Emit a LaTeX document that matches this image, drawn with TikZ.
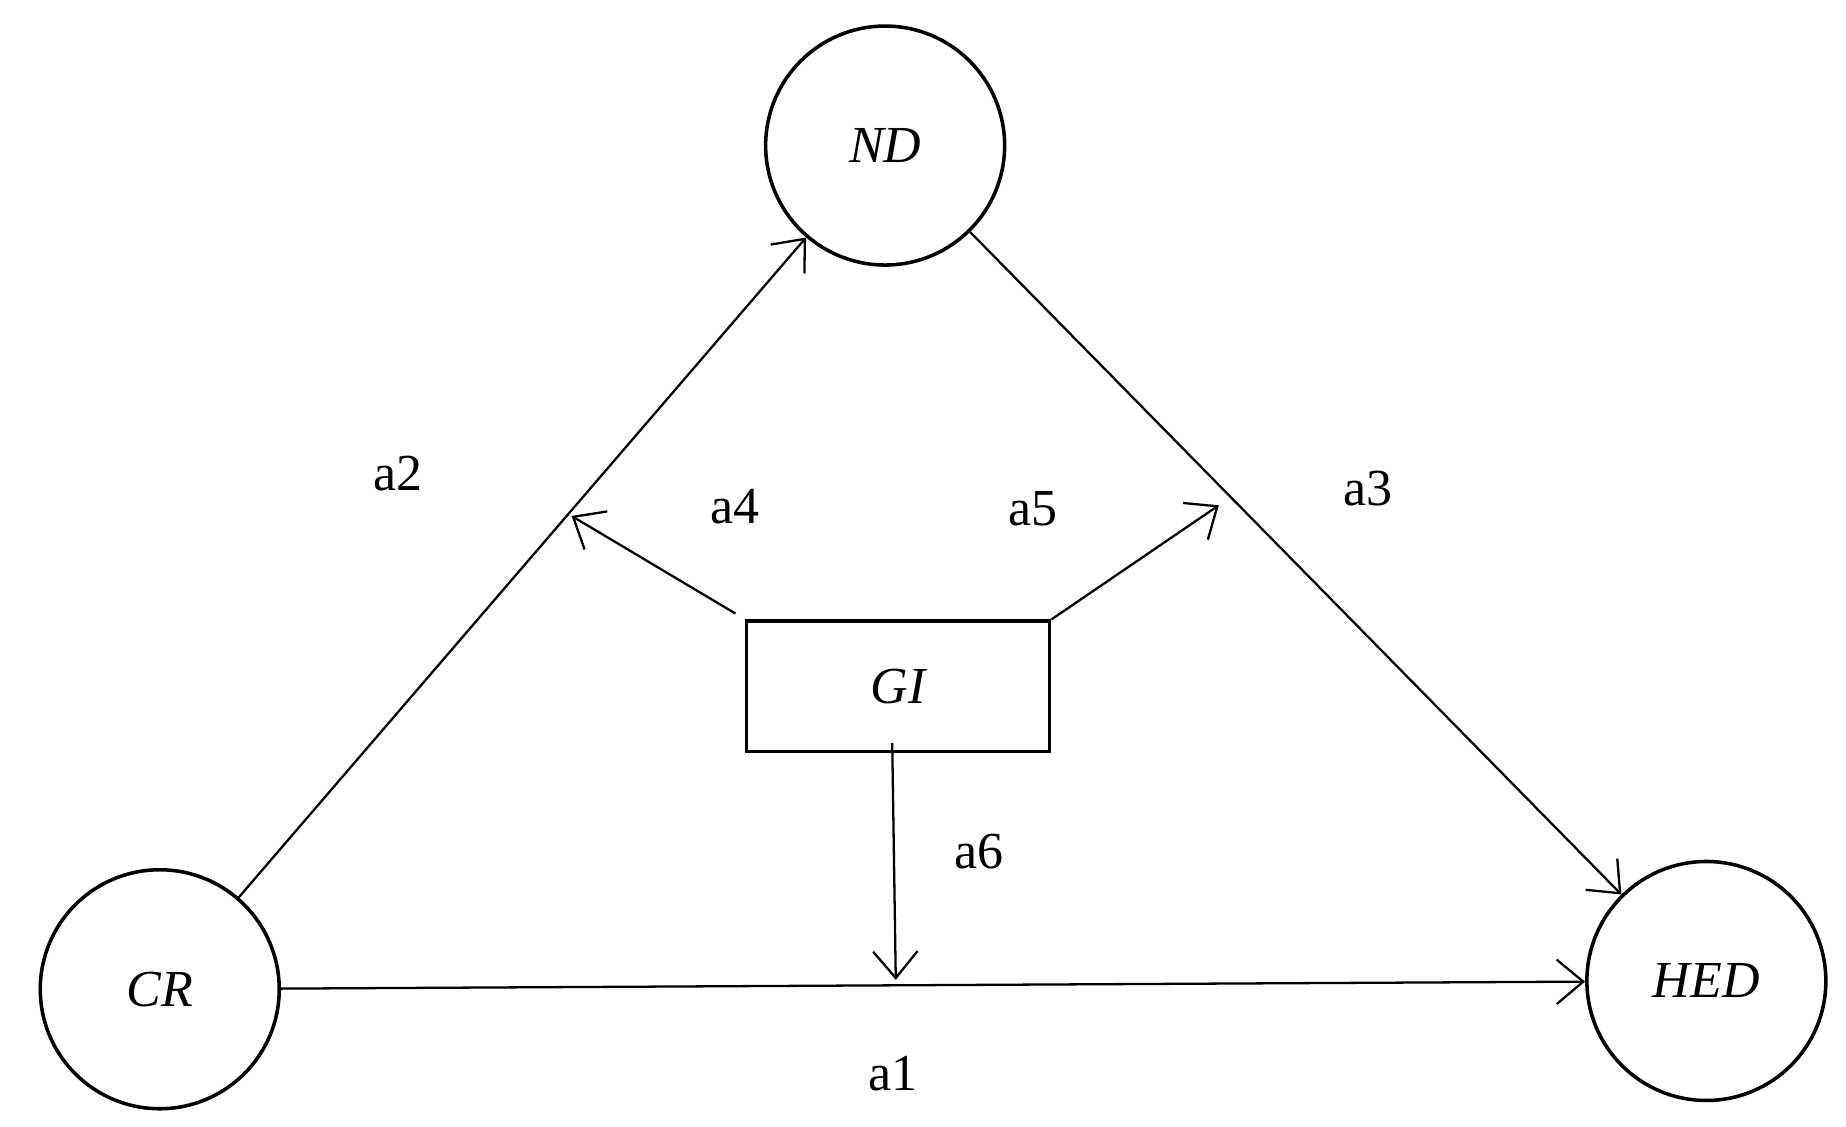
\documentclass[tikz,border=0pt]{standalone}
\usepackage{fontspec}
\setmainfont{Liberation Serif}
\usetikzlibrary{arrows.meta}
\begin{document}
\begin{tikzpicture}[x=0.02cm,y=-0.02cm,
  circ/.style={circle,draw,line width=1.7pt,minimum size=4.04cm,inner sep=0pt,font=\fontsize{25}{30}\selectfont\itshape},
  box/.style={rectangle,draw,line width=1.7pt,minimum width=5.12cm,minimum height=2.2cm,font=\fontsize{25}{30}\selectfont\itshape},
  lab/.style={font=\fontsize{25}{30}\selectfont},
  arr/.style={line width=1.1pt,-{Straight Barb[length=0.45cm,width=0.75cm,line width=1.1pt]}}]
\useasboundingbox (0,0) rectangle (1560,952);
\node[circ] (nd) at (748,123) {ND};
\node[circ] (cr) at (135,836) {CR};
\node[circ] (hed) at (1442,829) {HED};
\node[box] (gi) at (759,580) {GI};
\coordinate (p4) at (483,436);
\coordinate (p5) at (1030,427);
\coordinate (p6) at (757,828);
\draw[arr] (cr) -- (nd);
\draw[arr] (nd) -- (hed);
\draw[arr] (cr) -- (hed);
\draw[arr] (gi.north west) ++(-8,-5) -- (p4);
\draw[arr] (gi.north east) -- (p5);
\draw[arr] (754,628) -- (p6);
\node[lab] (a1) at (755,907) {a1};
\node[lab] (a2) at (336,400) {a2};
\node[lab] (a3) at (1156,413) {a3};
\node[lab] (a4) at (621,428) {a4};
\node[lab] (a5) at (873,430) {a5};
\node[lab] (a6) at (827,720) {a6};
\end{tikzpicture}
\end{document}
